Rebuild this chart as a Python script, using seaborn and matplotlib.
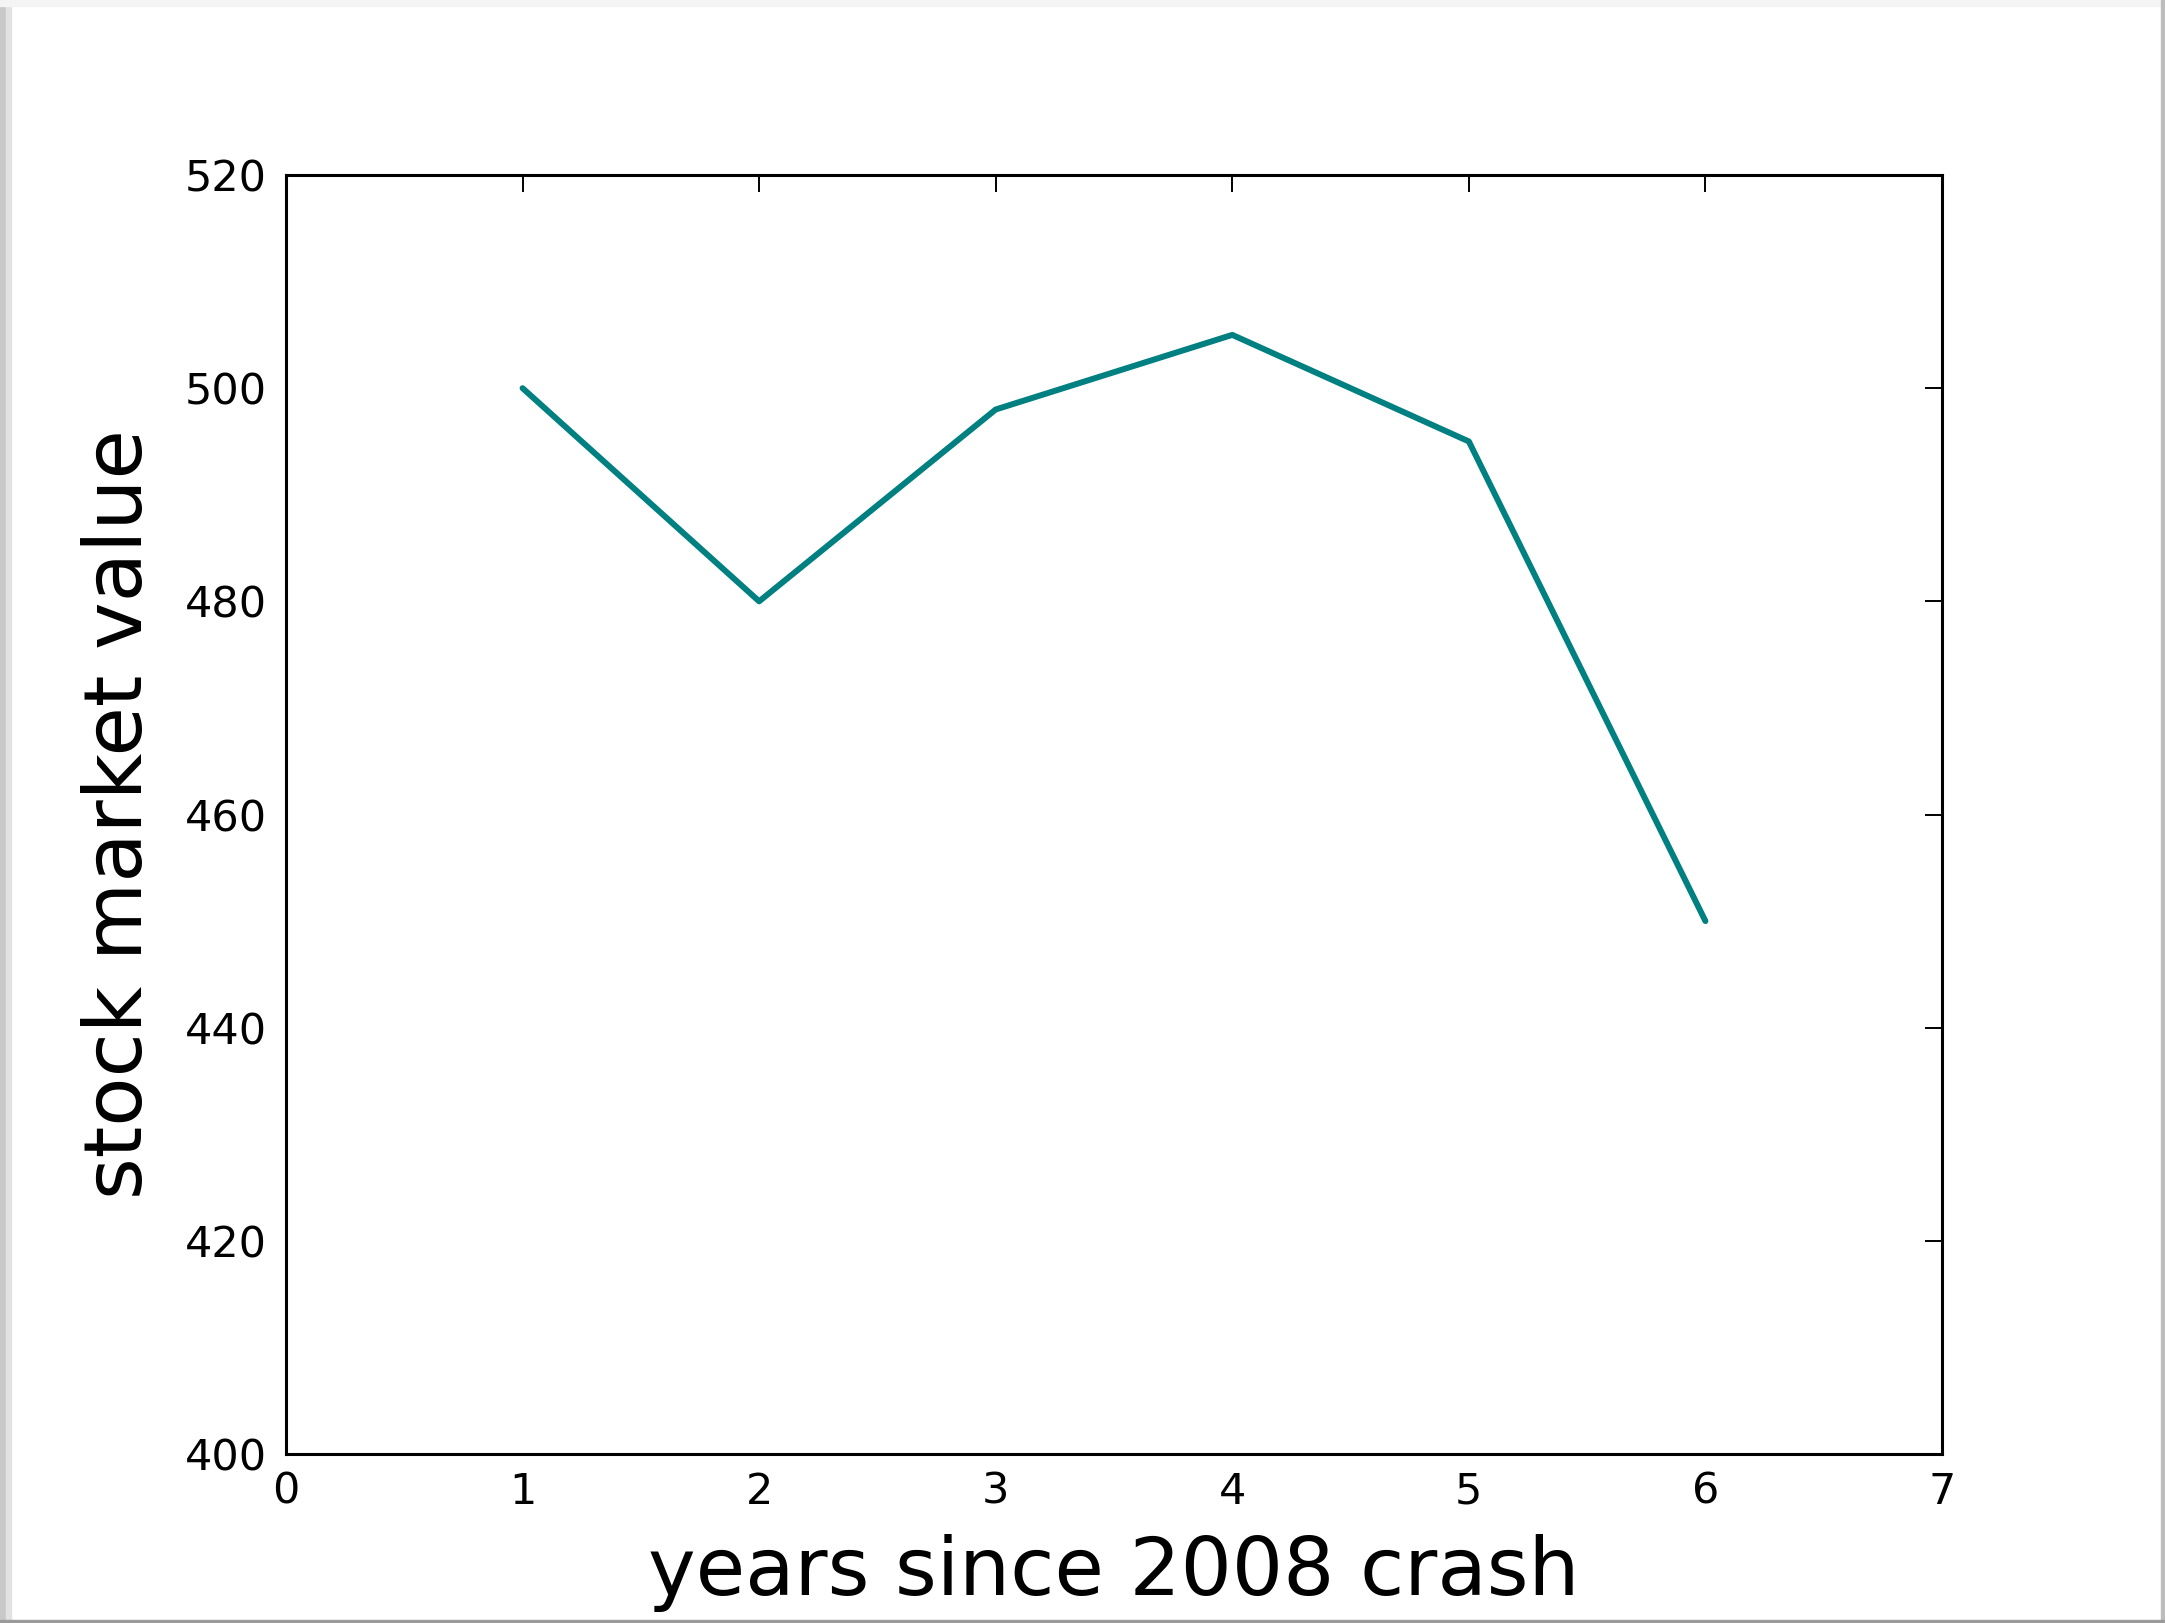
import pandas as pd
import matplotlib
matplotlib.use("Agg")
import matplotlib.pyplot as plt
from matplotlib.patches import Rectangle
import seaborn as sns

# values
years = [1, 2, 3, 4, 5, 6]
market_value = [500, 480, 498, 505, 495, 450]
x_ticks = [0, 1, 2, 3, 4, 5, 6, 7]
y_ticks = [400, 420, 440, 460, 480, 500, 520]

W, H, DPI = 2165, 1623, 100

sns.set_style("white")
plt.rcParams["font.family"] = ["DejaVu Sans"]

df = pd.DataFrame({"years": years, "value": market_value})

fig = plt.figure(figsize=(W / DPI, H / DPI), dpi=DPI)
ax = fig.add_axes([286 / W, 1 - 1454 / H, (1942 - 286) / W, (1454 - 175) / H])

sns.lineplot(data=df, x="years", y="value", ax=ax, color="#008080", lw=4.3)

ax.set_xlim(0, 7)
ax.set_ylim(400, 520)
ax.set_xticks(x_ticks)
ax.set_yticks(y_ticks)
ax.tick_params(axis="both", which="major", direction="in", length=12.5, width=1.4,
               labelsize=31, top=True, right=True, color="black", labelcolor="black")
ax.tick_params(axis="x", pad=12)
ax.tick_params(axis="y", pad=14)
for s in ax.spines.values():
    s.set_visible(True)
    s.set_color("black")
    s.set_linewidth(2.2)

ax.set_xlabel("years since 2008 crash", fontsize=58, labelpad=15, color="black")
ax.set_ylabel("stock market value", fontsize=58, labelpad=18, color="black")
ax.grid(False)

# screenshot frame: shaded left edge, light strip on top, thin gray right/bottom lines
fig.add_artist(Rectangle((0, 0), 6 / W, 1, transform=fig.transFigure, color="#c8c8c8", zorder=0))
fig.add_artist(Rectangle((6 / W, 0), 5 / W, 1, transform=fig.transFigure, color="#e2e2e2", zorder=0))
fig.add_artist(Rectangle((0, 1 - 6 / H), 1, 6 / H, transform=fig.transFigure, color="#f4f4f4", zorder=0))
fig.add_artist(Rectangle((1 - 4 / W, 0), 4 / W, 1, transform=fig.transFigure, color="#bdbdbd", zorder=0))
fig.add_artist(Rectangle((0, 0), 1, 3 / H, transform=fig.transFigure, color="#9a9a9a", zorder=0))

fig.savefig("out.png", dpi=DPI)
